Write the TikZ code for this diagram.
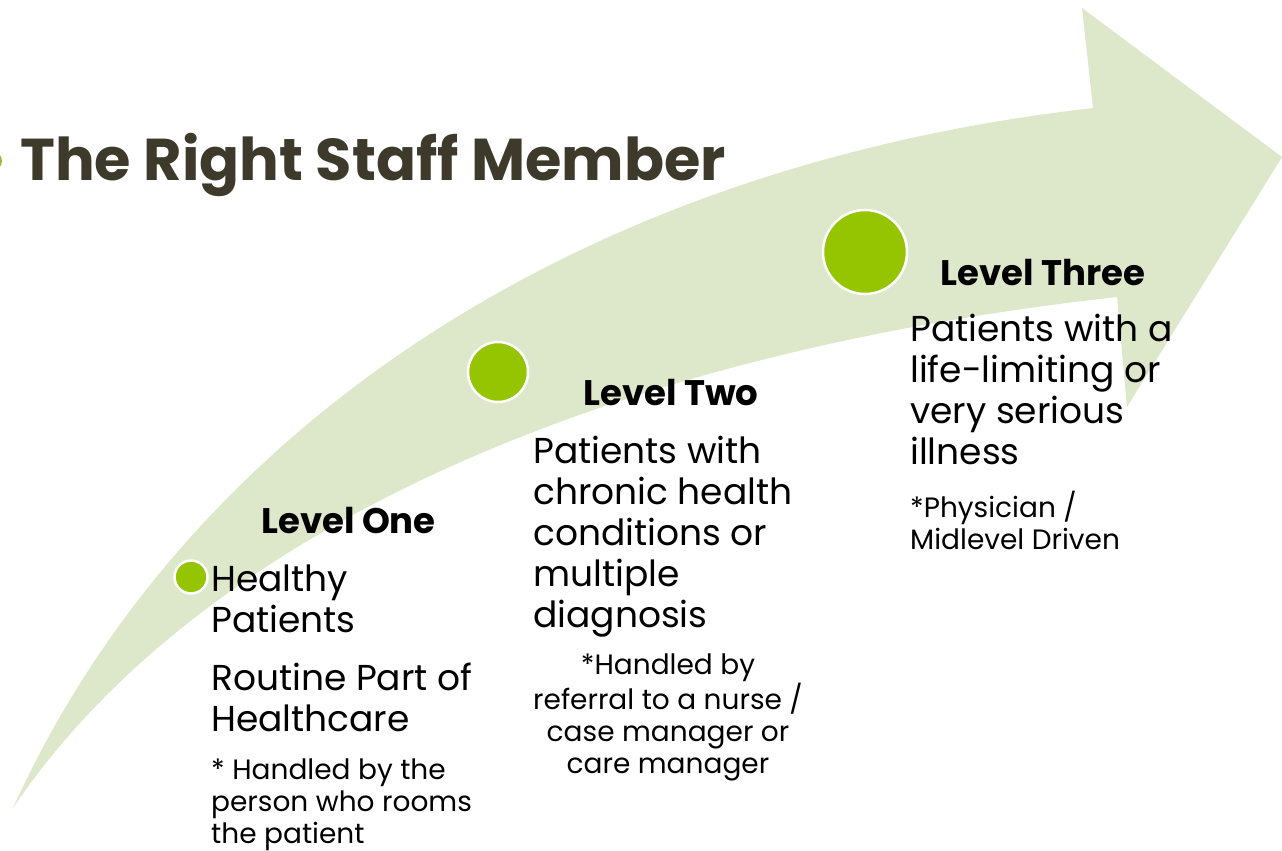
\documentclass[tikz,border=0pt]{standalone}
\usepackage{fontspec}
\setmainfont{Poppins}
\usepackage{xcolor}
\usetikzlibrary{positioning}

\definecolor{bandgreen}{RGB}{221,232,203}
\definecolor{dotgreen}{RGB}{149,197,0}
\definecolor{titlegray}{RGB}{61,58,44}
\definecolor{bulletgreen}{RGB}{150,190,40}

\begin{document}
\begin{tikzpicture}[
    x=1pt, y=-1pt,
    dot/.style={circle, fill=dotgreen, draw=white, line width=2.5pt, inner sep=0pt},
    heading/.style={anchor=base west, inner sep=0pt, font=\fontsize{35.5}{41}\selectfont\bfseries},
    body/.style={anchor=base west, inner sep=0pt, align=left, font=\fontsize{36}{41}\selectfont},
    note/.style={anchor=base west, inner sep=0pt, align=left, font=\fontsize{28}{32}\selectfont}
  ]
    \useasboundingbox (0,0) rectangle (1282,851);
    % the big curved arrow
    \fill[bandgreen] (13,808) .. controls (175,450) and (550,170) .. (1093,108)
      -- (1082,8) -- (1282,157) -- (1127,407) -- (1117,297)
      .. controls (550,360) and (180,560) .. (13,808) -- cycle;
    \fill[bulletgreen] (-8,161) circle (10);
    \node[anchor=base west, inner sep=0pt, text=titlegray, font=\fontsize{59}{66}\selectfont\bfseries]
      (title) at (20,180) {The Right Staff Member};

    \node[dot, minimum size=33] (dotone) at (191,577) {};
    \node[dot, minimum size=60] (dottwo) at (498,372) {};
    \node[dot, minimum size=84] (dotthree) at (865,252) {};

    % multi-line nodes sit on the baseline of their last line
    \node[heading] (headone) at (261,533) {Level One};
    \node[body] (bodyone) at (211,632) {Healthy\\Patients};
    \node[body] (routine) at (211,731) {Routine Part of\\Healthcare};
    \node[note] (noteone) at (211,843) {* Handled by the\\person who rooms\\the patient};

    \node[heading] (headtwo) at (583,405) {Level Two};
    \node[body] (bodytwo) at (533,627) {Patients with\\chronic health\\conditions or\\multiple\\diagnosis};
    \node[note, anchor=base, align=center] (notetwo) at (668,773) {*Handled by\\referral to a nurse /\\case manager or\\care manager};

    \node[heading] (headthree) at (940,285) {Level Three};
    \node[body] (bodythree) at (910,464) {Patients with a\\life-limiting or\\very serious\\illness};
    \node[note] (notethree) at (910,549) {*Physician /\\Midlevel Driven};
  \end{tikzpicture}
\end{document}
